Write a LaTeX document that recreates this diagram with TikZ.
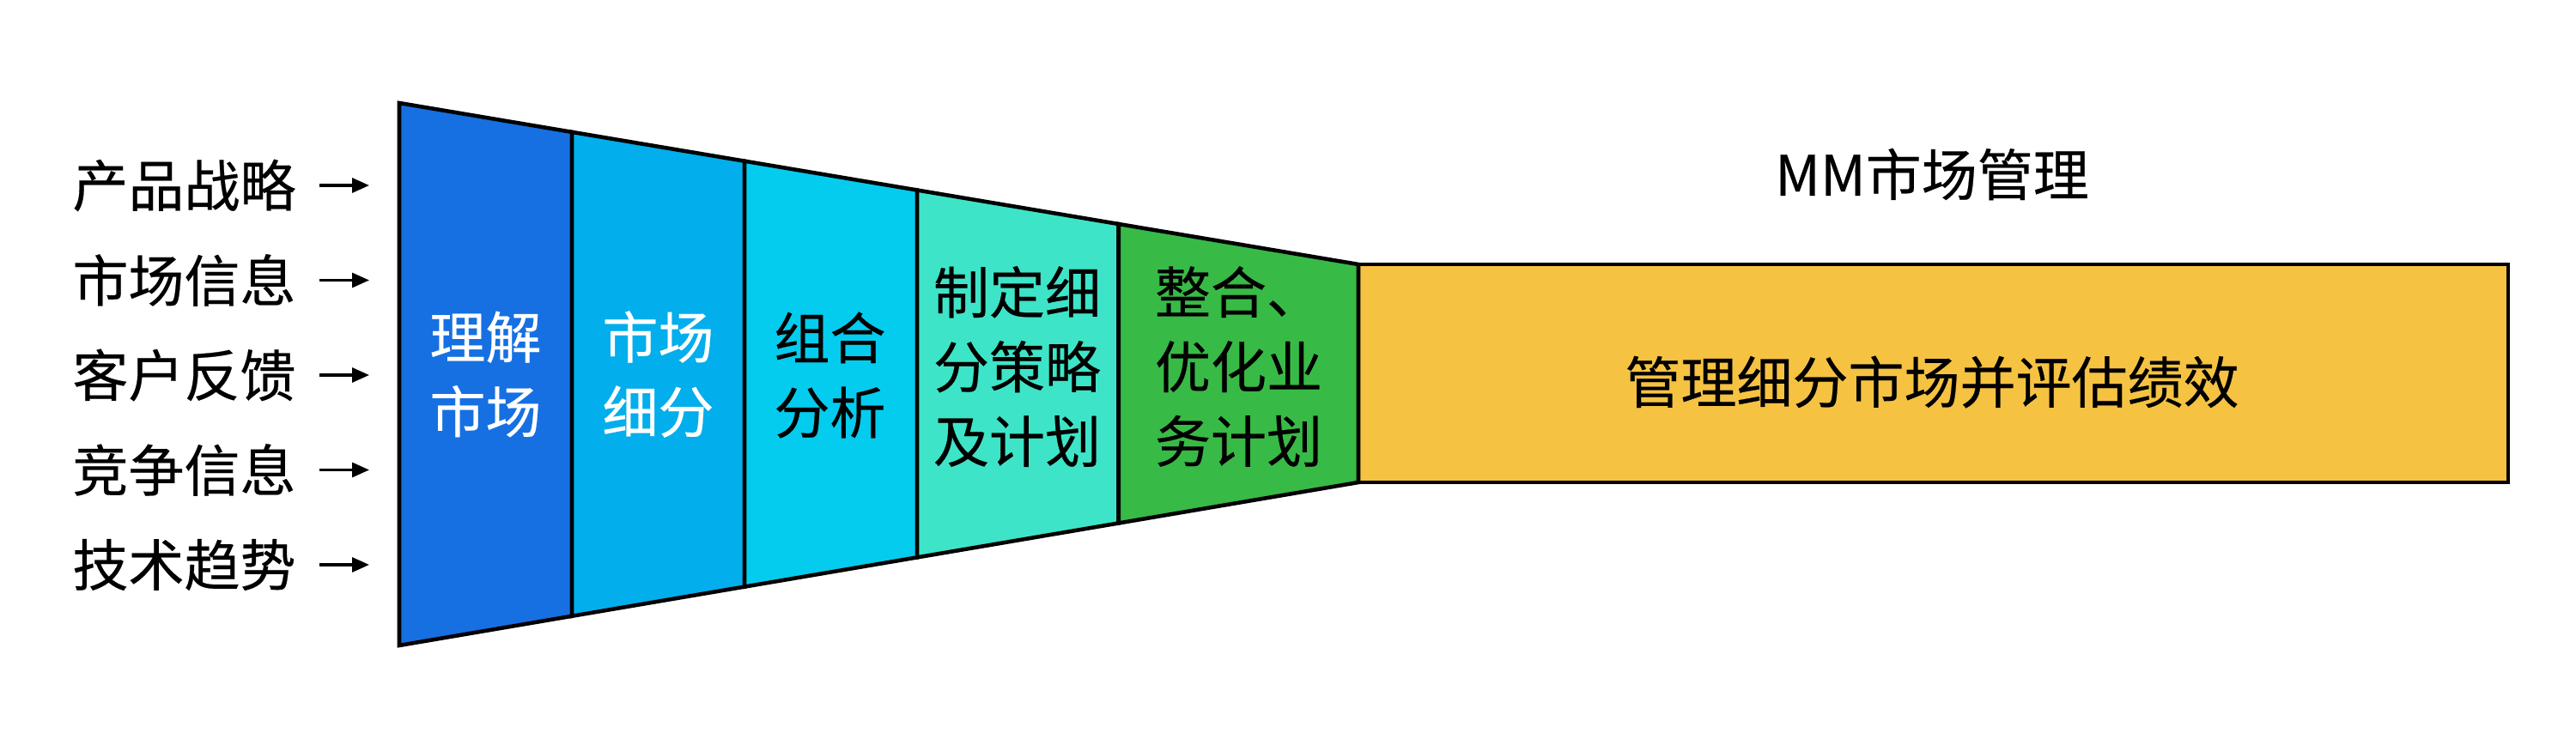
\documentclass[tikz,border=0pt]{standalone}
\usepackage{fontspec}
\setmainfont{Noto Sans CJK SC}[FakeBold=0.35]
\usepackage{xcolor}
\usepackage{tikz}
\usetikzlibrary{calc,arrows.meta}

\definecolor{stageA}{RGB}{22,112,226}
\definecolor{stageB}{RGB}{2,174,236}
\definecolor{stageC}{RGB}{4,204,238}
\definecolor{stageD}{RGB}{62,228,200}
\definecolor{stageE}{RGB}{56,186,70}
\definecolor{goal}{RGB}{245,194,66}

\begin{document}
\begin{tikzpicture}[
    stagebox/.style={draw=black, line width=1.3pt},
    stagetext/.style={align=center, inner sep=0pt, font=\fontsize{18.5}{24.7}\selectfont},
    inlabel/.style={inner sep=0pt, font=\fontsize{18.5}{24.7}\selectfont},
    feed/.style={-{Triangle[length=2mm, width=1.7mm]}, line width=0.9pt, shorten <=2.7mm, shorten >=3.5mm},
    goalbox/.style={draw=black, line width=1.3pt, fill=goal, minimum width=13.39cm, minimum height=2.54cm, inner sep=0pt}
]
    \useasboundingbox (0,0) rectangle (30,8.6);

    % Inputs
    \foreach \txt [count=\i] in {产品战略, 市场信息, 客户反馈, 竞争信息, 技术趋势} {
        \node[inlabel] (in\i) at (2.145, 7.545-1.105*\i) {\txt};
        \coordinate (e\i) at (4.65, 7.545-1.105*\i);
        \draw[feed] (in\i) -- (e\i);
    }

    % Goal box
    \node[goalbox] (mgmt) at (22.515, 4.25) {};
    \node[stagetext] (mgmtlbl) at (22.50, 4.15) {管理细分市场并评估绩效};
    \node[stagetext] (ttl) at (22.50, 6.57) {MM市场管理};

    % Funnel
    \coordinate (tl) at (4.65, 7.40);
    \coordinate (bl) at (4.65, 1.08);
    \coordinate (tr) at (15.82, 5.52);
    \coordinate (br) at (15.82, 2.98);
    \foreach \a/\b/\col in {0/0.18/stageA, 0.18/0.36/stageB, 0.36/0.54/stageC, 0.54/0.75/stageD, 0.75/1/stageE} {
        \filldraw[stagebox, fill=\col] ($(tl)!\a!(tr)$) -- ($(tl)!\b!(tr)$) -- ($(bl)!\b!(br)$) -- ($(bl)!\a!(br)$) -- cycle;
    }
    \node[stagetext, white] (s1) at (5.655, 4.24) {理解\\市场};
    \node[stagetext, white] (s2) at (7.665, 4.24) {市场\\细分};
    \node[stagetext] (s3) at (9.665, 4.23) {组合\\分析};
    \node[stagetext] (s4) at (11.845, 4.33) {制定细\\分策略\\及计划};
    \node[stagetext] (s5) at (14.425, 4.33) {整合、\\优化业\\务计划};
\end{tikzpicture}
\end{document}
